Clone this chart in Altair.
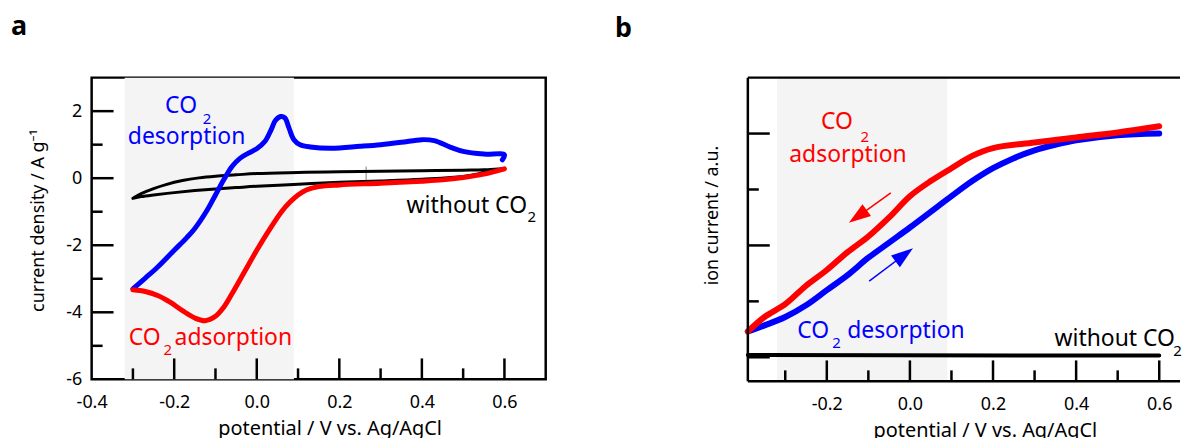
import altair as alt
import pandas as pd

FONT = "Noto Sans"
BLUE = "#0000ff"
RED = "#ff0000"

# ---------------- panel a : cyclic voltammogram ----------------
a_blue_x = [-0.30, -0.27, -0.24, -0.20, -0.17, -0.15, -0.12, -0.10, -0.08, -0.06, -0.04, -0.02, 0.00,
            0.02, 0.035, 0.045, 0.058, 0.068, 0.078, 0.09, 0.105, 0.13, 0.18, 0.25, 0.30, 0.35, 0.40,
            0.43, 0.47, 0.50, 0.55, 0.60, 0.595]
a_blue_y = [-3.30, -2.98, -2.65, -2.15, -1.78, -1.50, -0.95, -0.50, -0.05, 0.35, 0.60, 0.75, 0.88,
            1.10, 1.45, 1.72, 1.84, 1.80, 1.50, 1.15, 1.00, 0.93, 0.89, 0.95, 1.00, 1.07, 1.15,
            1.12, 0.92, 0.80, 0.72, 0.70, 0.55]
a_red_x = [0.60, 0.55, 0.50, 0.45, 0.40, 0.30, 0.20, 0.15, 0.12, 0.10, 0.08, 0.06, 0.03, 0.00, -0.03,
           -0.06, -0.08, -0.10, -0.125, -0.15, -0.18, -0.21, -0.24, -0.27, -0.30]
a_red_y = [0.28, 0.12, 0.02, -0.05, -0.09, -0.15, -0.20, -0.25, -0.35, -0.50, -0.72, -1.00, -1.55, -2.15, -2.80,
           -3.45, -3.85, -4.12, -4.25, -4.17, -3.95, -3.70, -3.50, -3.38, -3.33]
a_black_x = [-0.30, -0.28, -0.25, -0.22, -0.18, -0.14, -0.10, -0.05, 0.00, 0.10, 0.20, 0.30, 0.40, 0.50, 0.55, 0.60,
             0.55, 0.50, 0.40, 0.30, 0.20, 0.10, 0.00, -0.05, -0.10, -0.15, -0.20, -0.25, -0.28, -0.30]
a_black_y = [-0.60, -0.46, -0.31, -0.19, -0.07, 0.01, 0.06, 0.10, 0.14, 0.17, 0.19, 0.21, 0.22, 0.24, 0.25, 0.28,
             0.16, 0.05, -0.03, -0.08, -0.12, -0.18, -0.24, -0.28, -0.32, -0.37, -0.43, -0.50, -0.55, -0.60]
a_mark_x = [0.265]
a_mark_y = [-0.22]
a_mark_y2 = [0.35]
a_shade = [-0.32, 0.09]
a_xlabels = [-0.4, -0.2, 0.0, 0.2, 0.4, 0.6]
a_xmajor = [-0.2, 0.0, 0.2, 0.4, 0.6]
a_xminor = [-0.3, -0.1, 0.1, 0.3, 0.5]
a_ylabels = [-6, -4, -2, 0, 2]
a_ymajor = [-4, -2, 0, 2]
a_yminor = [-5, -3, -1, 1]

# ---------------- panel b : mass-spec ion current ----------------
b_red_x = [0.60, 0.50, 0.40, 0.30, 0.20, 0.15, 0.10, 0.05, 0.00, -0.05, -0.10, -0.15, -0.20, -0.25, -0.30, -0.35, -0.39]
b_red_y = [4.13, 4.02, 3.93, 3.84, 3.74, 3.60, 3.38, 3.15, 2.88, 2.50, 2.16, 1.88, 1.56, 1.28, 0.95, 0.72, 0.46]
b_blue_x = [-0.39, -0.35, -0.30, -0.25, -0.20, -0.15, -0.10, -0.05, 0.00, 0.05, 0.10, 0.15, 0.20, 0.25, 0.30,
            0.35, 0.40, 0.50, 0.60]
b_blue_y = [0.46, 0.57, 0.72, 0.93, 1.20, 1.47, 1.78, 2.05, 2.32, 2.60, 2.88, 3.15, 3.38, 3.56, 3.70,
            3.80, 3.88, 3.97, 4.00]
b_black_x = [-0.39, 0.60]
b_black_y = [0.04, 0.03]
b_shade = [-0.32, 0.09]
b_xlabels = [-0.2, 0.0, 0.2, 0.4, 0.6]
b_xmajor = [-0.2, 0.0, 0.2, 0.4, 0.6]
b_xminor = [-0.3, -0.1, 0.1, 0.3, 0.5]
b_ymajor = [0, 2, 4]
b_yminor = [1, 3]
# arrows: shaft start, head centre, head angle
b_arrow_x = [-0.046, -0.098]
b_arrow_y = [2.94, 1.36]
b_head_x = [-0.123, -0.016]
b_head_y = [2.53, 1.82]
b_head_angle = [234.5, 53]

W_A, H_A = 456, 303
W_B, H_B = 434, 305
ARROW = "M0,-1L0.6,0.8L-0.6,0.8Z"
ANN = 23
SUB = 15


def line_df(xs, ys):
    return pd.DataFrame({"x": xs, "y": ys, "i": list(range(len(xs)))})


def make_x(domain, labels, title, title_x):
    return alt.X("x:Q", scale=alt.Scale(domain=domain, nice=False, zero=False),
                 axis=alt.Axis(values=labels, format=".1f",
                               labelExpr="replace(datum.label, '\u2212', '-')",
                               ticks=False, domain=False, grid=False, labelPadding=14,
                               labelFlush=False,
                               labelFont=FONT, labelFontSize=18, labelColor="black",
                               title=title, titleFont=FONT, titleFontSize=20,
                               titleFontWeight="normal", titleColor="black", titlePadding=7,
                               titleX=title_x))


def make_y(domain, labels, title, show_labels, tpad, title_y):
    ax = dict(values=labels, format="d", labelExpr="replace(datum.label, '\u2212', '-')",
              ticks=False, domain=False, grid=False, labelPadding=10, labels=show_labels,
              labelFont=FONT, labelFontSize=18, labelColor="black",
              title=title, titleFont=FONT, titleFontSize=18, titleFontWeight="normal",
              titleColor="black", titlePadding=tpad, titleY=title_y)
    return alt.Y("y:Q", scale=alt.Scale(domain=domain, nice=False, zero=False), axis=alt.Axis(**ax))


def line(xs, ys, X, Y, color, width):
    return alt.Chart(line_df(xs, ys)).mark_line(color=color, strokeWidth=width, strokeCap="round",
                                                strokeJoin="round", interpolate="catmull-rom").encode(
        x=X, y=Y, order="i:Q")


def xticks(vals, length, X, H):
    return alt.Chart(pd.DataFrame({"x": vals})).mark_rule(color="black", strokeWidth=2.5).encode(
        x=X, y=alt.value(H), y2=alt.value(H - length))


def yticks(vals, length, Y):
    return alt.Chart(pd.DataFrame({"y": vals})).mark_rule(color="black", strokeWidth=2.5).encode(
        y=Y, x=alt.value(0), x2=alt.value(length))


def shade(xs, X, H):
    return alt.Chart(pd.DataFrame({"x": [xs[0]], "x2": [xs[1]]})).mark_rect(color="#f4f4f4").encode(
        x=X, x2="x2:Q", y=alt.value(0), y2=alt.value(H))


def label(t, x, y, X, Y, color, size=ANN, align="left"):
    return alt.Chart(pd.DataFrame({"x": [x], "y": [y], "t": [t]})).mark_text(
        align=align, baseline="middle", font=FONT, fontSize=size, color=color).encode(x=X, y=Y, text="t:N")


def letter(t, px, py):
    return alt.Chart(pd.DataFrame({"t": [t]})).mark_text(
        align="center", baseline="alphabetic", font=FONT, fontSize=27, fontWeight="bold",
        color="black").encode(x=alt.value(px), y=alt.value(py), text="t:N")


# ----- panel a -----
XA = make_x([-0.4, 0.7], a_xlabels, "potential / V vs. Ag/AgCl", 239)
YA = make_y([-6, 3], a_ylabels, "current density / A g\u207b\u00b9", True, 18, 143)

mark_a = alt.Chart(pd.DataFrame({"x": a_mark_x, "y": a_mark_y, "y2": a_mark_y2})).mark_rule(
    color="#999999", strokeWidth=1.2).encode(x=XA, y=YA, y2="y2:Q")

panel_a = alt.layer(
    shade(a_shade, XA, H_A),
    xticks(a_xmajor, 21, XA, H_A), xticks(a_xminor, 11, XA, H_A),
    yticks(a_ymajor, 22, YA), yticks(a_yminor, 11, YA),
    mark_a,
    line(a_black_x, a_black_y, XA, YA, "black", 3),
    line(a_blue_x, a_blue_y, XA, YA, BLUE, 5),
    line(a_red_x, a_red_y, XA, YA, RED, 5),
    label("CO", -0.222, 2.15, XA, YA, BLUE),
    label("2", -0.131, 1.76, XA, YA, BLUE, SUB),
    label("desorption", -0.17, 1.23, XA, YA, BLUE, align="center"),
    label("CO", -0.31, -4.77, XA, YA, RED),
    label("2", -0.226, -5.14, XA, YA, RED, SUB),
    label("adsorption", -0.199, -4.77, XA, YA, RED),
    label("without CO", 0.363, -0.82, XA, YA, "black"),
    label("2", 0.656, -1.17, XA, YA, "black", SUB),
    letter("a", -73, -43),
).properties(width=W_A, height=H_A, view=alt.ViewBackground(stroke="black", strokeWidth=2.5))

# ----- panel b -----
XB = make_x([-0.39, 0.65], b_xlabels, "potential / V vs. Ag/AgCl", 238)
YB = make_y([-0.43, 5.0], b_ymajor, "ion current / a.u.", False, 26, 138)

frame_b = alt.layer(
    alt.Chart(pd.DataFrame({"k": [0]})).mark_rule(color="black", strokeWidth=2.5).encode(
        x=alt.value(0), y=alt.value(0), y2=alt.value(H_B)),
    alt.Chart(pd.DataFrame({"k": [0]})).mark_rule(color="black", strokeWidth=2.5).encode(
        x=alt.value(0), x2=alt.value(W_B), y=alt.value(0)),
    alt.Chart(pd.DataFrame({"k": [0]})).mark_rule(color="black", strokeWidth=2.5).encode(
        x=alt.value(0), x2=alt.value(W_B), y=alt.value(H_B)),
)

arrows = alt.Chart(pd.DataFrame({"x": b_arrow_x, "y": b_arrow_y, "x2": b_head_x, "y2": b_head_y,
                                 "c": [RED, BLUE]})).mark_rule(strokeWidth=1.5).encode(
    x=XB, y=YB, x2="x2:Q", y2="y2:Q", color=alt.Color("c:N", scale=None))
heads = alt.Chart(pd.DataFrame({"x": b_head_x, "y": b_head_y, "a": b_head_angle,
                                "c": [RED, BLUE]})).mark_point(shape=ARROW, filled=True, size=600,
                                                               opacity=1, strokeWidth=0).encode(
    x=XB, y=YB, angle=alt.Angle("a:Q", scale=None), color=alt.Color("c:N", scale=None))

panel_b = alt.layer(
    shade(b_shade, XB, H_B),
    xticks(b_xmajor, 21, XB, H_B), xticks(b_xminor, 11, XB, H_B),
    yticks(b_ymajor, 22, YB), yticks(b_yminor, 11, YB),
    line(b_black_x, b_black_y, XB, YB, "black", 4),
    line(b_blue_x, b_blue_y, XB, YB, BLUE, 6),
    line(b_red_x, b_red_y, XB, YB, RED, 6),
    arrows, heads,
    label("CO", -0.214, 4.21, XB, YB, RED),
    label("2", -0.119, 3.94, XB, YB, RED, SUB),
    label("adsorption", -0.149, 3.61, XB, YB, RED, align="center"),
    label("CO", -0.271, 0.47, XB, YB, BLUE),
    label("2", -0.187, 0.25, XB, YB, BLUE, SUB),
    label("desorption", -0.151, 0.47, XB, YB, BLUE),
    label("without CO", 0.348, 0.32, XB, YB, "black"),
    label("2", 0.634, 0.12, XB, YB, "black", SUB),
    frame_b,
    letter("b", -125, -41),
).properties(width=W_B, height=H_B, view=alt.ViewBackground(stroke="transparent", strokeWidth=0))

chart = alt.hconcat(panel_a, panel_b, spacing=67).properties(
    padding={"left": 1, "top": 2, "right": 0, "bottom": 0},
    background="white",
)

chart.save("out.html", embed_options={"renderer": "svg", "actions": False})
